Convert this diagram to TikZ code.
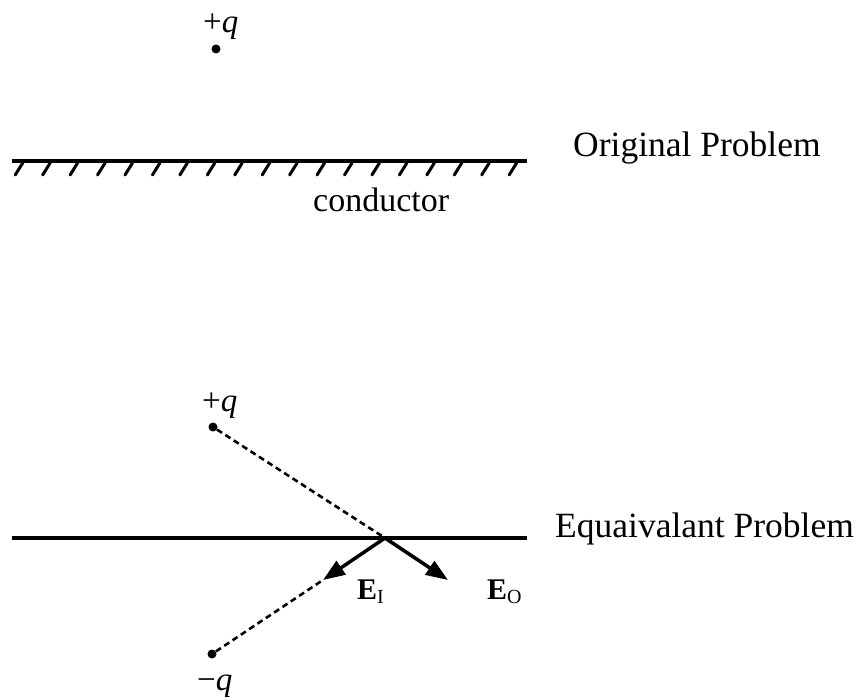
\documentclass[tikz,border=0pt]{standalone}
\usepackage{fontspec}
\setmainfont{Liberation Serif}
\usetikzlibrary{arrows.meta}
\tikzset{ImgQ/.style={circle,fill,inner sep=0pt,minimum size=9pt},
         ImgLab/.style={inner sep=0pt,anchor=base west,font=\fontsize{33}{36}\selectfont},
         ImgTxt/.style={inner sep=0pt,anchor=base west,font=\fontsize{35.5}{40}\selectfont},
         ImgE/.style={inner sep=0pt,anchor=base west,font=\fontsize{30}{32}\selectfont\bfseries},
         ImgField/.style={line width=3.5pt,-{Triangle[length=22pt,width=16pt]}},
         ImgImage/.style={line width=2.6pt,dash pattern=on 6pt off 4pt}}
\newcommand{\ImgSub}[1]{\raisebox{-4pt}{\fontsize{20}{20}\selectfont\mdseries #1}}

\begin{document}
\begin{tikzpicture}[x=1pt,y=-1pt]
    \useasboundingbox (0,0) rectangle (856,700);
    % original problem
    \node[ImgQ] (qa) at (216,49) {};
    \node[ImgLab] (qalab) at (203,33) {+\textit{q}};
    \coordinate (wa) at (12,161); \coordinate (wb) at (527,161);
    \draw[line width=3.5pt] (wa) -- (wb);
    \foreach \i in {0,...,18}
      \draw[line width=3pt,line cap=round] (22.7+27.44*\i,163) -- ++(-7.5,12);
    \node[ImgTxt,font=\fontsize{34}{38}\selectfont] (cond) at (313,212) {conductor};
    \node[ImgTxt] (orig) at (573,157) {Original Problem};
    % equivalent problem
    \node[ImgQ] (qb) at (213,427) {};
    \node[ImgLab] (qblab) at (202,411) {+\textit{q}};
    \node[ImgQ] (qc) at (212,654) {};
    \node[ImgLab] (qclab) at (197,690) {−\textit{q}};
    \coordinate (ga) at (12,538); \coordinate (gb) at (527,538);
    \coordinate (p) at (385,538);
    \coordinate (ei) at (323,580); \coordinate (eo) at (448,580);
    \draw[line width=3.5pt] (ga) -- (gb);
    \draw[ImgImage] (qb) -- (p);
    \draw[ImgImage] (qc) -- (ei);
    \draw[ImgField] (p) -- (ei);
    \draw[ImgField] (p) -- (eo);
    \node[ImgE] (eilab) at (357,599) {E\ImgSub{I}};
    \node[ImgE] (eolab) at (487,599) {E\ImgSub{O}};
    \node[ImgTxt] (equiv) at (555,537) {Equaivalant Problem};
  \end{tikzpicture}
\end{document}
